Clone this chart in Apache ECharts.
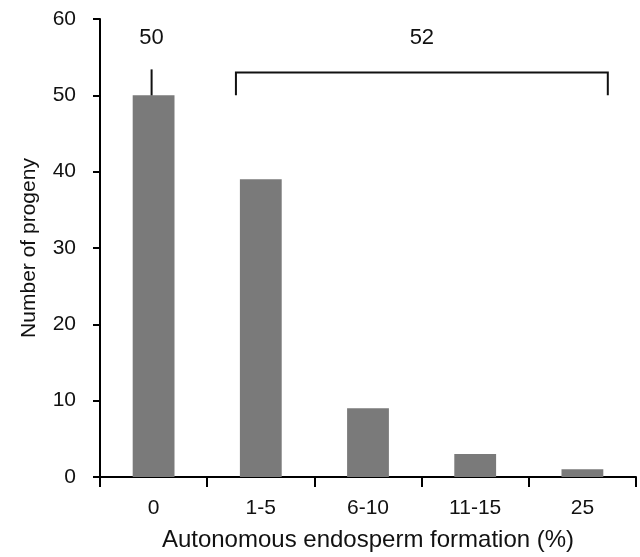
<!DOCTYPE html>
<html>
<head>
<meta charset="utf-8">
<script src="https://cdn.jsdelivr.net/npm/echarts@6/dist/echarts.min.js"></script>
<style>html,body{margin:0;padding:0;background:#fff}#c{width:640px;height:557px}</style>
</head>
<body>
<div id="c"></div>
<script>
var categories = ['0', '1-5', '6-10', '11-15', '25'];
var progeny = [50, 39, 9, 3, 1];
var yTicks = [0, 10, 20, 30, 40, 50, 60];
// group annotations: [fromIndex, toIndex, total label]
var groupFrom = [0, 1];
var groupTo = [0, 4];
var groupTotals = ['50', '52'];

var FONT = '"Liberation Sans", Arial, sans-serif';
var chart = echarts.init(document.getElementById('c'));

var groupData = groupFrom.map(function (f, i) { return [f, groupTo[i], groupTotals[i]]; });

chart.setOption({
  animation: false,
  grid: { left: 100, right: 4, top: 19, bottom: 74 },
  xAxis: {
    type: 'category',
    data: categories,
    name: 'Autonomous endosperm formation (%)',
    nameLocation: 'middle',
    nameGap: 51,
    nameTextStyle: { color: '#111', fontSize: 24, fontFamily: FONT },
    axisLine: { lineStyle: { color: '#000', width: 2 } },
    axisTick: { show: true, length: 10, lineStyle: { color: '#000', width: 2 }, alignWithLabel: false },
    axisLabel: { color: '#111', fontSize: 21, fontFamily: FONT, margin: 21 }
  },
  yAxis: {
    type: 'value',
    min: yTicks[0],
    max: yTicks[yTicks.length - 1],
    interval: 10,
    name: 'Number of progeny',
    nameLocation: 'middle',
    nameGap: 60,
    nameTextStyle: { color: '#111', fontSize: 21, fontFamily: FONT },
    splitLine: { show: false },
    axisLine: { show: true, lineStyle: { color: '#000', width: 2 } },
    axisTick: { show: true, length: 7, lineStyle: { color: '#000', width: 2 } },
    axisLabel: { color: '#111', fontSize: 21, fontFamily: FONT, margin: 24 }
  },
  series: [
    {
      type: 'bar',
      data: progeny,
      barWidth: '39%',
      itemStyle: { color: '#7a7a7a' }
    },
    {
      type: 'custom',
      data: groupData,
      clip: false,
      z: 5,
      renderItem: function (params, api) {
        var f = api.value(0), t = api.value(1);
        var band = api.size([1, 0])[0];
        var txt = groupTotals[params.dataIndex];
        var lineStyle = { stroke: '#111', lineWidth: 2, fill: null };
        var children = [];
        var top = api.coord([f, 53.0])[1];
        var base = api.coord([f, 50])[1];
        var labelY = api.coord([f, 57.5])[1];
        var cx;
        if (f === t) {
          var p = api.coord([f, 53.4]);
          cx = p[0] - 2;
          children.push({ type: 'line', shape: { x1: cx, y1: p[1], x2: cx, y2: base }, style: lineStyle });
        } else {
          var x1 = api.coord([f, 0])[0] - band * 0.232;
          var x2 = api.coord([t, 0])[0] + band * 0.237;
          cx = (x1 + x2) / 2;
          children.push({
            type: 'polyline',
            shape: { points: [[x1, base], [x1, top], [x2, top], [x2, base]] },
            style: lineStyle
          });
        }
        children.push({
          type: 'text',
          style: { text: txt, x: cx, y: labelY, align: 'center', verticalAlign: 'middle', fill: '#111', font: '22px ' + FONT }
        });
        return { type: 'group', children: children };
      }
    }
  ]
});
</script>
</body>
</html>
